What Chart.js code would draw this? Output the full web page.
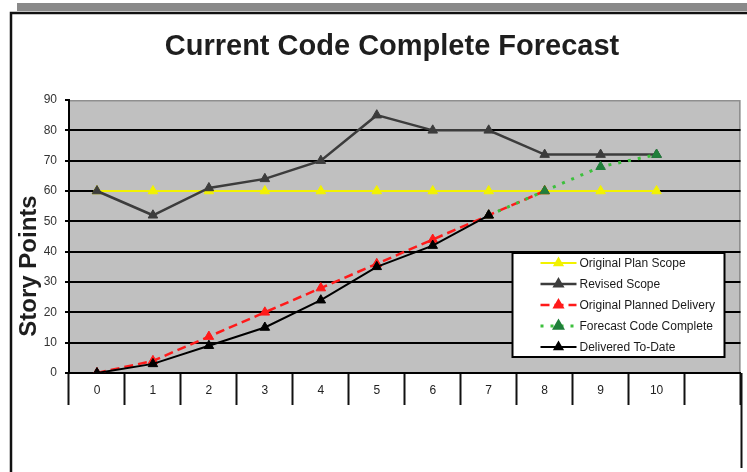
<!DOCTYPE html>
<html>
<head>
<meta charset="utf-8">
<title>Current Code Complete Forecast</title>
<script src="https://cdn.jsdelivr.net/npm/chart.js@4.4.1/dist/chart.umd.min.js"></script>
<style>
  html, body { margin: 0; padding: 0; background: #fff; }
  #wrap { position: relative; width: 747px; height: 472px; }
</style>
</head>
<body>
<div id="wrap"><canvas id="chart" width="747" height="472"></canvas></div>
<script>
// iterations on the x axis (last slot is left empty, as in the original sheet)
const iterations = ["0", "1", "2", "3", "4", "5", "6", "7", "8", "9", "10", ""];

const originalPlanScope = [60, 60, 60, 60, 60, 60, 60, 60, 60, 60, 60];
const revisedScope = [60, 52, 61, 64, 70, 85, 80, 80, 72, 72, 72];
const originalPlannedDelivery = [0, 4, 12, 20, 28, 36, 44, 52, 60];
const forecastCodeComplete = [null, null, null, null, null, null, null, 52, 60, 68, 72];
const deliveredToDate = [0, 3, 9, 15, 24, 35, 42, 52];

const yMin = 0;
const yMax = 90;
const yStep = 10;

const FONT = "'Liberation Sans', Arial, Helvetica, sans-serif";

// frame, plot background, titles and the boxed legend
const decorations = {
  id: "decorations",
  beforeDraw(chart) {
    const ctx = chart.ctx;
    const a = chart.chartArea;
    ctx.save();
    ctx.fillStyle = "#fff";
    ctx.fillRect(0, 0, chart.width, chart.height);

    // grey shadow strip + black frame
    ctx.fillStyle = "#8a8a8a";
    ctx.fillRect(17, 3, chart.width - 17, 8);
    ctx.strokeStyle = "#111";
    ctx.lineWidth = 2.5;
    ctx.beginPath();
    ctx.moveTo(11, chart.height);
    ctx.lineTo(11, 13);
    ctx.lineTo(chart.width, 13);
    ctx.stroke();

    // plot area
    ctx.fillStyle = "#c0c0c0";
    ctx.fillRect(a.left, a.top, a.right - a.left, a.bottom - a.top);
    ctx.strokeStyle = "#8f8f8f";
    ctx.lineWidth = 1.5;
    ctx.beginPath();
    ctx.moveTo(a.left, a.top + 0.75);
    ctx.lineTo(a.right - 0.75, a.top + 0.75);
    ctx.lineTo(a.right - 0.75, a.bottom);
    ctx.stroke();
    ctx.restore();
  },
  afterDraw(chart) {
    const ctx = chart.ctx;
    const a = chart.chartArea;
    ctx.save();

    // right edge line under the axis
    ctx.strokeStyle = "#111";
    ctx.lineWidth = 2;
    ctx.beginPath();
    ctx.moveTo(a.right + 1, a.bottom);
    ctx.lineTo(a.right + 1, 468);
    ctx.stroke();

    // chart title
    ctx.fillStyle = "#1e1e1e";
    ctx.font = "bold 29px " + FONT;
    ctx.textAlign = "center";
    ctx.textBaseline = "alphabetic";
    ctx.fillText("Current Code Complete Forecast", 392, 55);

    // y axis title
    ctx.save();
    ctx.translate(36, 266);
    ctx.rotate(-Math.PI / 2);
    ctx.font = "bold 24px " + FONT;
    ctx.fillText("Story Points", 0, 0);
    ctx.restore();

    // legend
    const bx = a.right - 228, by = a.top + 153, bw = 212, bh = 104;
    ctx.fillStyle = "#fff";
    ctx.fillRect(bx, by, bw, bh);
    ctx.strokeStyle = "#000";
    ctx.lineWidth = 2;
    ctx.strokeRect(bx, by, bw, bh);

    chart.data.datasets.forEach((ds, i) => {
      const y = by + 10 + i * 21;
      const x0 = bx + 28, x1 = bx + 64, xm = (x0 + x1) / 2;
      ctx.strokeStyle = ds.borderColor;
      ctx.lineWidth = ds.borderWidth;
      ctx.setLineDash(ds.borderDash || []);
      ctx.beginPath();
      ctx.moveTo(x0, y);
      ctx.lineTo(x1, y);
      ctx.stroke();
      ctx.setLineDash([]);
      ctx.fillStyle = ds.pointBackgroundColor;
      ctx.strokeStyle = ds.pointBorderColor;
      Chart.helpers.drawPoint(ctx, {
        pointStyle: "triangle", radius: 4.5, rotation: 0, borderWidth: 1
      }, xm, y);
      ctx.fillStyle = "#1a1a1a";
      ctx.font = "12px " + FONT;
      ctx.textAlign = "left";
      ctx.textBaseline = "middle";
      ctx.fillText(ds.label, x1 + 3, y + 1);
    });
    ctx.restore();
  }
};

function series(label, data, color, markColor, width, dash, order) {
  return {
    label: label,
    data: data,
    borderColor: color,
    borderWidth: width,
    borderDash: dash,
    pointStyle: "triangle",
    pointRadius: 5.5,
    pointBackgroundColor: markColor,
    pointBorderColor: markColor,
    pointBorderWidth: 1,
    tension: 0,
    fill: false,
    spanGaps: false,
    order: order
  };
}

new Chart(document.getElementById("chart"), {
  type: "line",
  data: {
    labels: iterations,
    datasets: [
      series("Original Plan Scope", originalPlanScope, "#f2f200", "#f2f200", 2, [], 4),
      series("Revised Scope", revisedScope, "#3c3c3c", "#3c3c3c", 2.5, [], 3),
      series("Original Planned Delivery", originalPlannedDelivery, "#ff1a1a", "#ff1a1a", 2.5, [9, 5], 2),
      series("Forecast Code Complete", forecastCodeComplete, "#3cc03c", "#1f7f3a", 3, [3, 7], 1),
      series("Delivered To-Date", deliveredToDate, "#000000", "#000000", 2, [], 0)
    ]
  },
  options: {
    responsive: false,
    animation: false,
    events: [],
    layout: { padding: { top: 100, right: 4, left: 0, bottom: 0 } },
    plugins: {
      legend: { display: false },
      title: { display: false },
      tooltip: { enabled: false }
    },
    scales: {
      x: {
        type: "category",
        offset: true,
        afterFit(scale) { scale.height = 99; },
        border: { display: true, color: "#000", width: 2 },
        grid: {
          offset: true,
          drawOnChartArea: false,
          drawTicks: true,
          tickLength: 32,
          tickWidth: 2,
          tickColor: "#111"
        },
        ticks: {
          padding: -22,
          color: "#222",
          font: { family: FONT, size: 12 },
          maxRotation: 0,
          autoSkip: false
        }
      },
      y: {
        min: yMin,
        max: yMax,
        afterFit(scale) { scale.width = 69; },
        border: { display: true, color: "#000", width: 2 },
        grid: {
          color: ctx => (ctx.tick && ctx.tick.value === yMax) ? "rgba(0,0,0,0)" : "#000",
          lineWidth: 2,
          drawTicks: true,
          tickLength: 4,
          tickWidth: 2,
          tickColor: "#000"
        },
        ticks: {
          stepSize: yStep,
          padding: 8,
          color: "#333",
          font: { family: FONT, size: 12 }
        }
      }
    }
  },
  plugins: [decorations]
});
</script>
</body>
</html>
